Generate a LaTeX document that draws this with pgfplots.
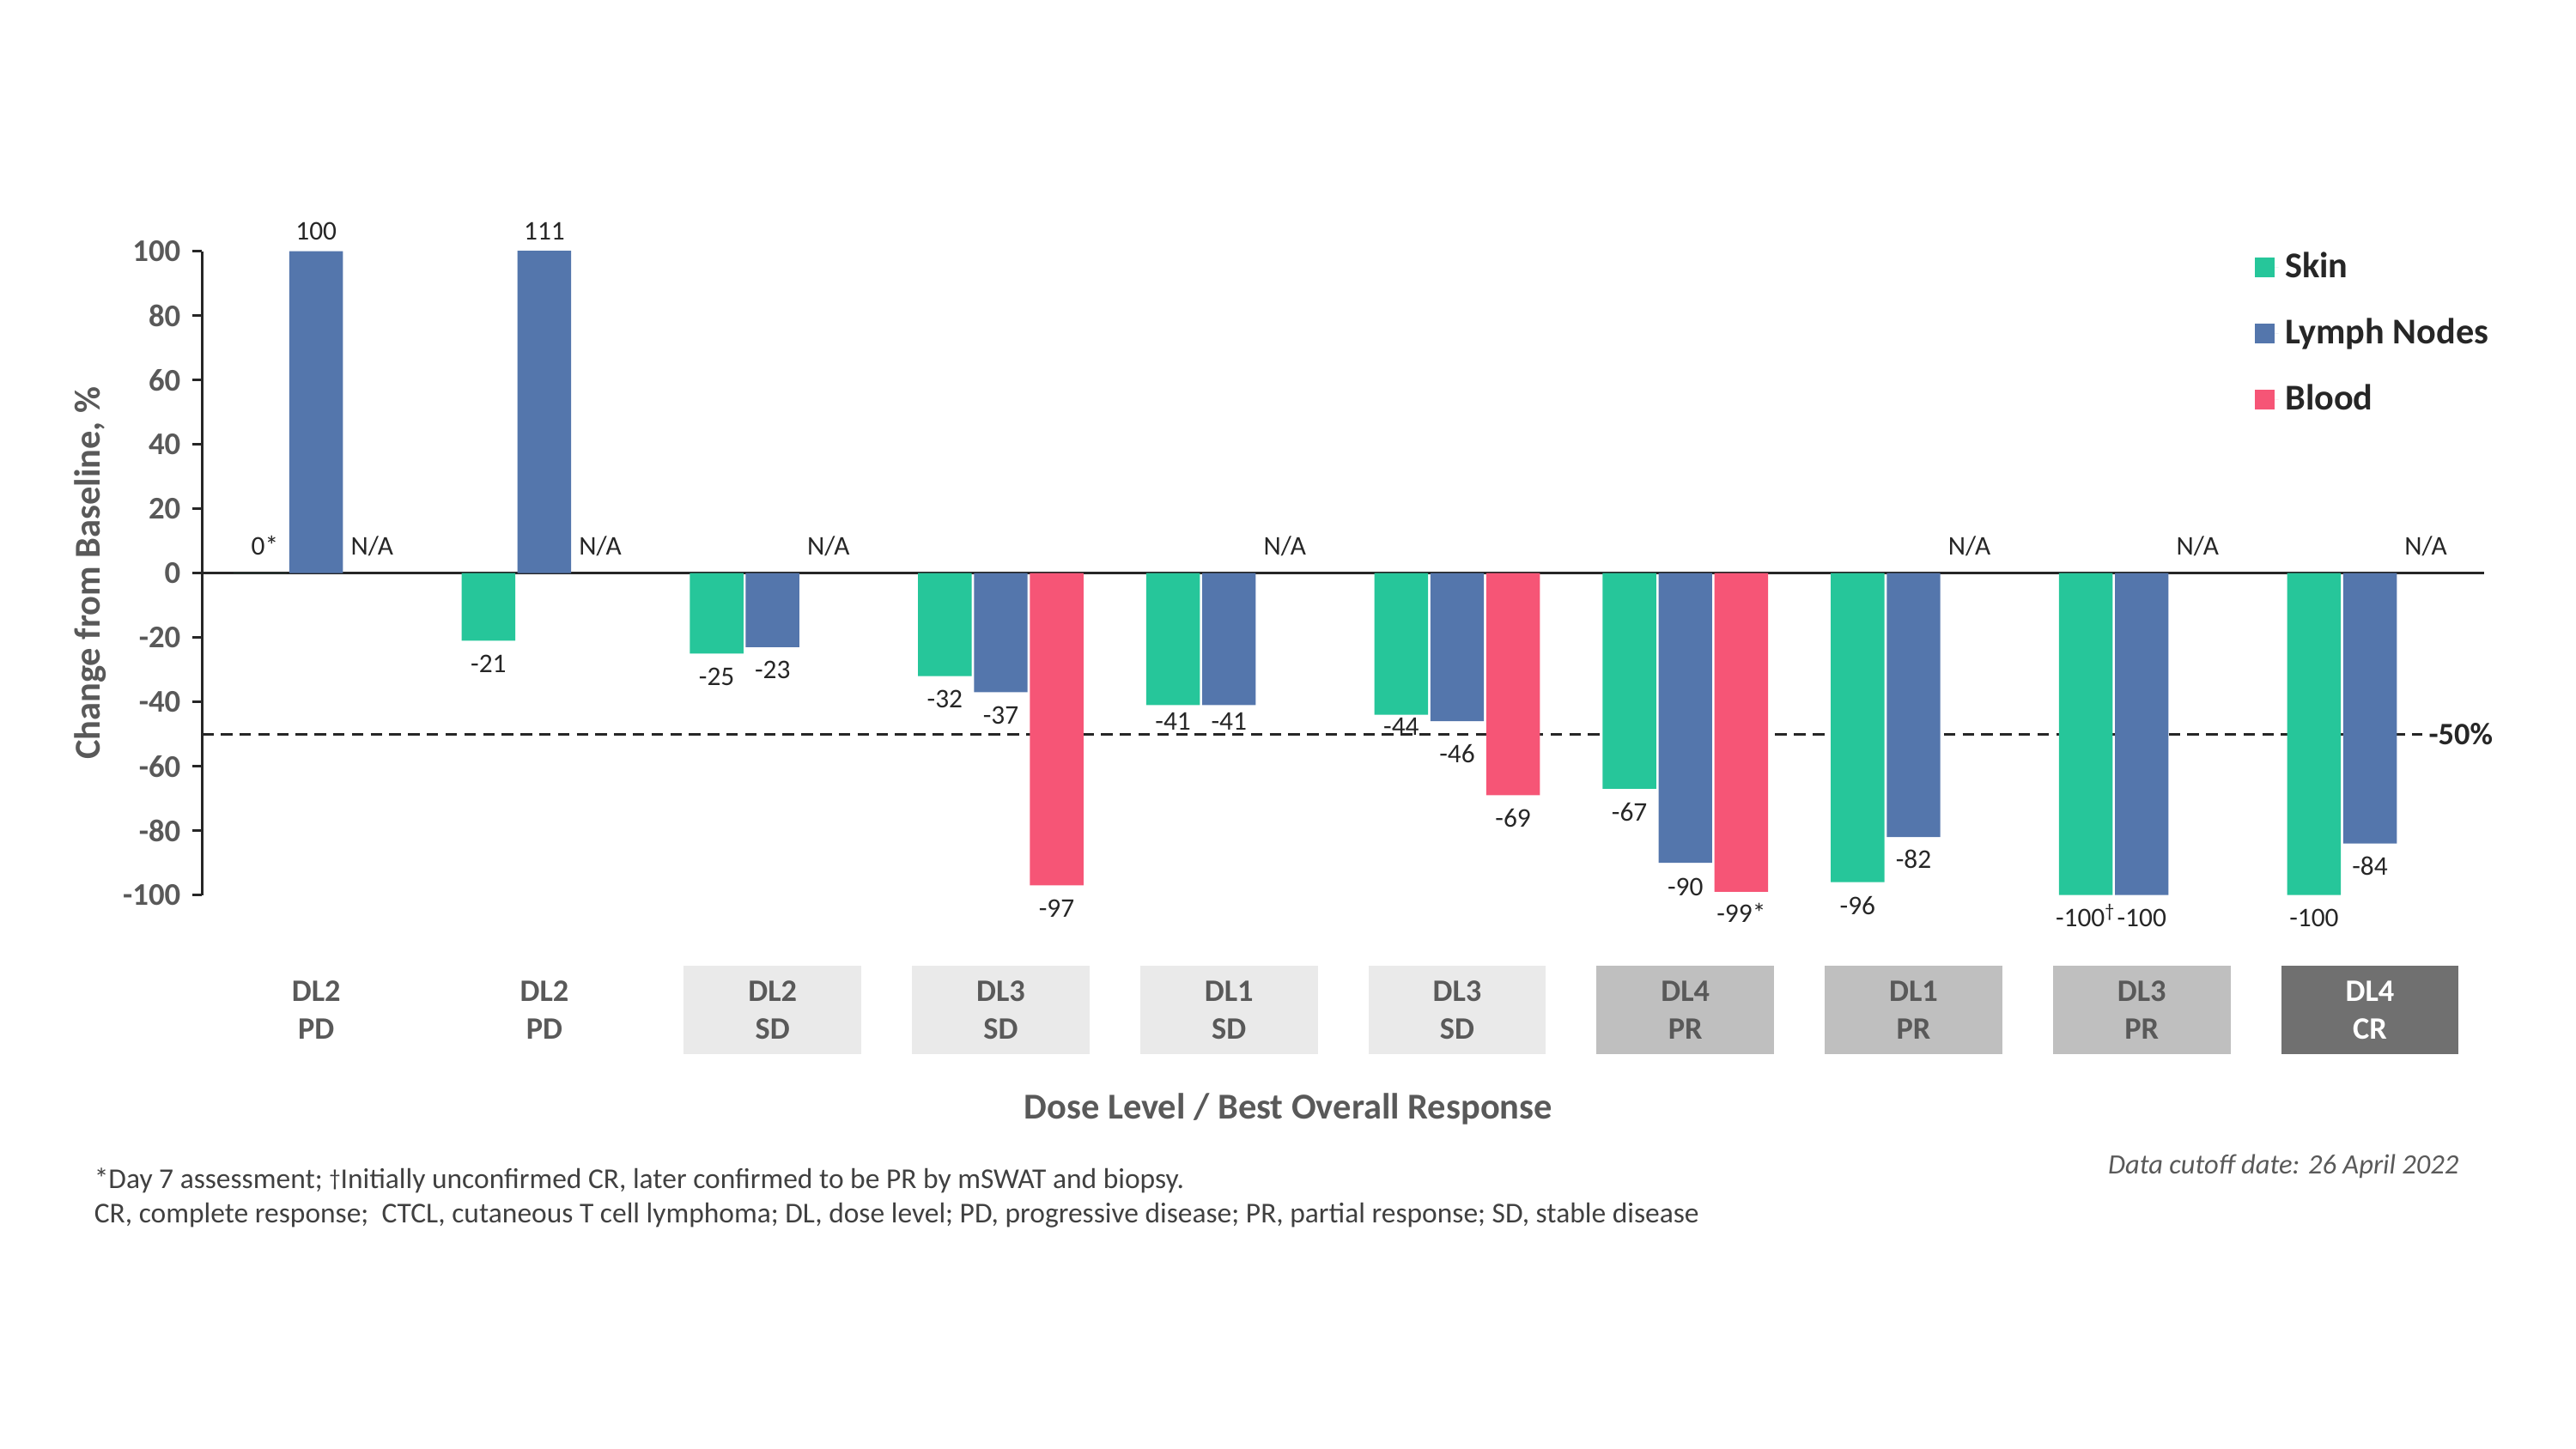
\documentclass[border=0pt]{standalone}
\usepackage{pgfplots}
\pgfplotsset{compat=1.18}
\usepackage{fontspec}
\setmainfont{Carlito}
\definecolor{skin}{RGB}{38,198,154}
\definecolor{lymph}{RGB}{84,118,172}
\definecolor{blood}{RGB}{246,85,118}
\definecolor{txtgray}{RGB}{89,89,89}
\definecolor{lbl}{RGB}{38,38,38}
\definecolor{fn}{RGB}{64,64,64}
\definecolor{sdbox}{RGB}{234,234,234}
\definecolor{prbox}{RGB}{191,191,191}
\definecolor{crbox}{RGB}{112,112,112}
\tikzset{
  lab/.style={font=\fontsize{8.2}{9.8}\selectfont, text=lbl, inner sep=0pt, anchor=base},
  cat/.style={minimum width=54pt, minimum height=27pt, inner sep=0pt, align=center,
    font=\bfseries\fontsize{9.5}{11.5}\selectfont, text=txtgray}
}
\begin{document}
\begin{tikzpicture}
\path[use as bounding box] (-61.5pt,-168.5pt) rectangle (722.5pt,272.5pt);
\begin{axis}[
  at={(0pt,0pt)}, anchor=south west,
  scale only axis, width=694.5pt, height=196pt,
  xmin=-0.5, xmax=9.5, ymin=-100, ymax=100,
  clip mode=individual,
  axis y line=left, axis x line=middle,
  axis line style={-, black!85, line width=0.8pt},
  xtick=\empty,
  ytick={-100,-80,-60,-40,-20,0,20,40,60,80,100},
  yticklabels={-100,-80,-60,-40,-20,0,20,40,60,80,100},
  tick align=outside, major tick length=3pt,
  tick style={black!85, line width=0.7pt},
  yticklabel style={font=\bfseries\fontsize{9.6}{11}\selectfont, text=txtgray},
  ylabel={Change from Baseline, \%},
  ylabel style={font=\bfseries\fontsize{11.1}{13}\selectfont, text=txtgray,
    at={(axis description cs:-0.049,0.5)}, anchor=center, rotate=0},
  xlabel={Dose Level / Best Overall Response},
  xlabel style={font=\bfseries\fontsize{11.1}{13}\selectfont, text=txtgray,
    at={(axis description cs:0.476,0)}, anchor=center, yshift=-65pt},
  legend style={at={(axis description cs:0.8993,1.0096)}, anchor=north west,
    draw=none, fill=none, inner sep=0pt, row sep=6.9pt,
    font=\bfseries\fontsize{11.05}{13}\selectfont, text=lbl,
    cells={anchor=west}},
  legend image code/.code={\fill[#1] (0pt,-3pt) rectangle (6pt,3pt); \path (0pt,0pt) -- (7.2pt,0pt);},
]
\addplot[forget plot, sharp plot, black!85, line width=0.8pt, dash pattern=on 3.5pt off 2.2pt]
  coordinates {(-0.5,-50) (9.23,-50)};

\addplot[ybar, bar width=0.235, bar shift=-0.245, fill=skin, draw=none]
  coordinates {(0,0) (1,-21) (2,-25) (3,-32) (4,-41) (5,-44) (6,-67) (7,-96) (8,-100) (9,-100)};
\addlegendentry{Skin}
\addplot[ybar, bar width=0.235, bar shift=0, fill=lymph, draw=none]
  coordinates {(0,100) (1,111) (2,-23) (3,-37) (4,-41) (5,-46) (6,-90) (7,-82) (8,-100) (9,-84)};
\addlegendentry{Lymph Nodes}
\addplot[ybar, bar width=0.235, bar shift=0.245, fill=blood, draw=none]
  coordinates {(3,-97) (5,-69) (6,-99)};
\addlegendentry{Blood}

% labels above zero
\node[lab, yshift=5.5pt] at (axis cs:-0.225,0) {0*};
\node[lab, yshift=3.4pt] at (axis cs:0,100) {100};
\node[lab, yshift=3.4pt] at (axis cs:1,100) {111};
\node[lab, yshift=5.5pt] at (axis cs:0.245,0) {N/A};
\node[lab, yshift=5.5pt] at (axis cs:1.245,0) {N/A};
\node[lab, yshift=5.5pt] at (axis cs:2.245,0) {N/A};
\node[lab, yshift=5.5pt] at (axis cs:4.245,0) {N/A};
\node[lab, yshift=5.5pt] at (axis cs:7.245,0) {N/A};
\node[lab, yshift=5.5pt] at (axis cs:8.245,0) {N/A};
\node[lab, yshift=5.5pt] at (axis cs:9.245,0) {N/A};

% negative labels
\node[lab, yshift=-9.8pt] at (axis cs:0.755,-21) {-21};
\node[lab, yshift=-9.6pt] at (axis cs:1.755,-25) {-25};
\node[lab, yshift=-9.6pt] at (axis cs:2,-23) {-23};
\node[lab, yshift=-9.6pt] at (axis cs:2.755,-32) {-32};
\node[lab, yshift=-9.8pt] at (axis cs:3,-37) {-37};
\node[lab, yshift=-9.6pt] at (axis cs:3.245,-97) {-97};
\node[lab, yshift=-7.6pt] at (axis cs:3.755,-41) {-41};
\node[lab, yshift=-7.6pt] at (axis cs:4,-41) {-41};
\node[lab, yshift=-6.2pt] at (axis cs:4.755,-44) {-44};
\node[lab, yshift=-12.6pt] at (axis cs:5,-46) {-46};
\node[lab, yshift=-9.8pt] at (axis cs:5.245,-69) {-69};
\node[lab, yshift=-9.8pt] at (axis cs:5.755,-67) {-67};
\node[lab, yshift=-10pt] at (axis cs:6,-90) {-90};
\node[lab, yshift=-9.2pt] at (axis cs:6.245,-99) {-99*};
\node[lab, yshift=-10pt] at (axis cs:6.755,-96) {-96};
\node[lab, yshift=-9.6pt] at (axis cs:7,-82) {-82};
\node[lab, yshift=-9.6pt] at (axis cs:7.755,-100) {-100\textsuperscript{†}};
\node[lab, yshift=-9.6pt] at (axis cs:8,-100) {-100};
\node[lab, yshift=-9.6pt] at (axis cs:8.755,-100) {-100};
\node[lab, yshift=-9.6pt] at (axis cs:9,-84) {-84};

\node[anchor=west, inner sep=0pt, font=\bfseries\fontsize{9.5}{11}\selectfont, text=lbl]
  at (axis cs:9.255,-50) {-50\%};

% category boxes
\node[cat, yshift=-35pt] at (axis cs:0,-100) {DL2\\PD};
\node[cat, yshift=-35pt] at (axis cs:1,-100) {DL2\\PD};
\node[cat, fill=sdbox, yshift=-35pt] at (axis cs:2,-100) {DL2\\SD};
\node[cat, fill=sdbox, yshift=-35pt] at (axis cs:3,-100) {DL3\\SD};
\node[cat, fill=sdbox, yshift=-35pt] at (axis cs:4,-100) {DL1\\SD};
\node[cat, fill=sdbox, yshift=-35pt] at (axis cs:5,-100) {DL3\\SD};
\node[cat, fill=prbox, yshift=-35pt] at (axis cs:6,-100) {DL4\\PR};
\node[cat, fill=prbox, yshift=-35pt] at (axis cs:7,-100) {DL1\\PR};
\node[cat, fill=prbox, yshift=-35pt] at (axis cs:8,-100) {DL3\\PR};
\node[cat, fill=crbox, text=white, yshift=-35pt] at (axis cs:9,-100) {DL4\\CR};
\end{axis}

\node[anchor=base west, inner sep=0pt, font=\fontsize{8.75}{10.5}\selectfont, text=fn]
  at (-33pt,-89.2pt) {*Day 7 assessment; \raisebox{0.15ex}{\fontsize{7}{8}\selectfont †}Initially unconfirmed CR, later confirmed to be PR by mSWAT and biopsy.};
\node[anchor=base west, inner sep=0pt, font=\fontsize{8.75}{10.5}\selectfont, text=fn]
  at (-33pt,-99.8pt) {CR, complete response;\ \ CTCL, cutaneous T cell lymphoma; DL, dose level; PD, progressive disease; PR, partial response; SD, stable disease};
\node[anchor=base east, inner sep=0pt, font=\itshape\fontsize{8.5}{10}\selectfont, text=txtgray]
  at (687pt,-85pt) {Data cutoff date: 26 April 2022};
\end{tikzpicture}
\end{document}
